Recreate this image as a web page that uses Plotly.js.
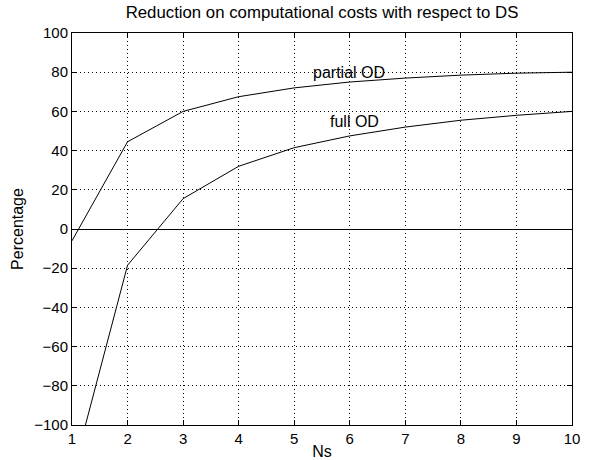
<!DOCTYPE html>
<html>
<head>
<meta charset="utf-8">
<script src="https://cdn.plot.ly/plotly-3.0.1.min.js"></script>
<style>html,body{margin:0;padding:0;background:#fff;}#chart{width:592px;height:460px;}</style>
</head>
<body>
<div id="chart"></div>
<script>
const ns = [1, 2, 3, 4, 5, 6, 7, 8, 9, 10];
const partialOD = [-6, 44.5, 60, 67.5, 72, 75, 77, 78.5, 79.5, 80];
const fullOD = [-126, -18.5, 15.5, 32, 41.5, 47.5, 52, 55.5, 58, 60];
const labels = [
  {text: "partial OD", x: 5.98, y: 80},
  {text: "full OD", x: 6.08, y: 55}
];
const xTicks = [1, 2, 3, 4, 5, 6, 7, 8, 9, 10];
const yTicks = [-100, -80, -60, -40, -20, 0, 20, 40, 60, 80, 100];

const fam = "Liberation Sans, Arial, sans-serif";
const font = {family: fam, size: 15, color: "#000"};
const labelFont = {family: fam, size: 16, color: "#000"};
const titleFont = {family: fam, size: 16.8, color: "#000"};
const traces = [
  {x: ns, y: partialOD, mode: "lines", line: {color: "#000", width: 1}, name: "partial OD", hoverinfo: "skip"},
  {x: ns, y: fullOD, mode: "lines", line: {color: "#000", width: 1}, name: "full OD", hoverinfo: "skip"}
];
const axisCommon = {
  showline: true, linecolor: "#000", linewidth: 1, mirror: "allticks",
  ticks: "inside", ticklen: 5, tickcolor: "#000", tickwidth: 1,
  showgrid: true, gridcolor: "#000", gridwidth: 1, griddash: "1px,3px",
  tickfont: font
};
const layout = {
  width: 592, height: 460,
  margin: {l: 72, r: 20, t: 33, b: 35},
  paper_bgcolor: "#fff", plot_bgcolor: "#fff",
  showlegend: false,
  font: font,
  title: {text: "Reduction on computational costs with respect to DS", font: titleFont, x: 0.5, xref: "paper", xanchor: "center", y: 0.974, yanchor: "middle"},
  xaxis: Object.assign({}, axisCommon, {
    range: [1, 10], tickvals: xTicks, zeroline: false,
    title: {text: "Ns", font: labelFont, standoff: 0}
  }),
  yaxis: Object.assign({}, axisCommon, {
    range: [-100, 100], tickvals: yTicks,
    zeroline: true, zerolinecolor: "#000", zerolinewidth: 1,
    title: {text: "Percentage", font: labelFont, standoff: 6}
  }),
  annotations: labels.map(l => ({x: l.x, y: l.y, xref: "x", yref: "y", text: l.text, showarrow: false, font: labelFont, xanchor: "center", yanchor: "middle"}))
};
Plotly.newPlot("chart", traces, layout, {staticPlot: true, displayModeBar: false});
</script>
</body>
</html>
